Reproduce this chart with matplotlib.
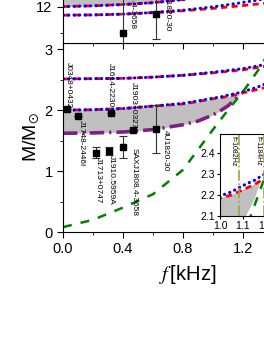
import matplotlib
matplotlib.use('Agg')
import matplotlib.pyplot as plt
from matplotlib.ticker import MultipleLocator

plt.rcParams['font.family'] = ['Liberation Sans', 'DejaVu Sans']
plt.rcParams['mathtext.fontset'] = 'stix'

# --- top panel: radius vs spin frequency (kHz) ---
f_r = [0.0, 0.2, 0.4, 0.6, 0.8, 1.0, 1.2, 1.4]
r_up = [12.0, 12.03, 12.08, 12.15, 12.27, 12.5, 12.9, 13.4]
r_lo_blue = [11.67, 11.68, 11.71, 11.77, 11.86, 11.99, 12.16, 12.35]
r_lo_red = [11.67, 11.68, 11.71, 11.77, 11.84, 11.93, 12.04, 12.16]

# --- bottom panel: mass vs spin frequency ---
f_t = [0.0, 0.4, 0.6, 0.8, 1.0, 1.2, 1.4]
m_top_blue = [2.51, 2.52, 2.54, 2.57, 2.62, 2.68, 2.77]
m_top_red = [2.51, 2.52, 2.54, 2.57, 2.61, 2.66, 2.74]

f_m = [0.0, 0.2, 0.4, 0.6, 0.8, 0.9, 1.0, 1.05, 1.1, 1.15, 1.18, 1.25, 1.3, 1.4]
m_max_blue = [2.00, 2.005, 2.025, 2.065, 2.11, 2.15, 2.195, 2.215, 2.245, 2.27, 2.29, 2.34, 2.38, 2.48]
m_max_red = [2.00, 2.005, 2.025, 2.065, 2.10, 2.14, 2.185, 2.20, 2.225, 2.25, 2.27, 2.31, 2.34, 2.40]

f_lo = [0.0, 0.2, 0.4, 0.6, 0.8, 0.9, 1.0, 1.05, 1.1, 1.15, 1.18]
m_lo = [1.62, 1.625, 1.64, 1.68, 1.76, 1.82, 1.92, 1.99, 2.07, 2.18, 2.27]
m_lo_top = [2.00, 2.005, 2.025, 2.065, 2.10, 2.14, 2.185, 2.20, 2.225, 2.25, 2.27]

f_g = [0.0, 0.2, 0.4, 0.6, 0.8, 0.9, 1.0, 1.1, 1.2, 1.3, 1.4]
m_g = [0.08, 0.2, 0.4, 0.62, 1.02, 1.35, 1.68, 2.0, 2.3, 2.65, 3.05]

# pulsars
psr_names = ['J0348+0432', 'J1748-2446I', 'J1713+0747', 'J1910.5959A',
             'J1614-2230', 'SAXJ1808.4-3658', 'J1903+0327', '4U1820-30']
psr_f = [0.027, 0.10, 0.22, 0.307, 0.32, 0.401, 0.467, 0.62]
psr_m = [2.01, 1.90, 1.30, 1.33, 1.96, 1.39, 1.67, 1.69]
psr_err = [0.0, 0.0, 0.09, 0.07, 0.0, 0.18, 0.0, 0.39]
lab_f = [0.033, 0.12, 0.233, 0.32, 0.313, 0.473, 0.467, 0.68]
lab_m = [2.79, 1.84, 1.23, 1.26, 2.77, 1.38, 2.46, 1.67]

rad_names = ['SAXJ1808.4-3658', '4U1820-30']
rad_f = [0.401, 0.62]
rad_r = [11.0, 11.73]
rad_err = [1.6, 0.96]
rad_lab_f = [0.46, 0.693]
rad_lab_r = [11.12, 11.06]

inset_lines = [1.082, 1.19]
inset_texts = ['f=1082Hz', 'f=1184Hz']

W, H = 264, 341
def box(l, t, r, b):
    return [l / W, 1 - b / H, (r - l) / W, (b - t) / H]

fig = plt.figure(figsize=(W / 100, H / 100), dpi=100)
ax = fig.add_axes(box(63, 43, 273, 232))
ax_top = fig.add_axes(box(63, 43 - 88.4, 273, 43))
axin = fig.add_axes(box(220, 134, 266, 216))

red_ls = dict(color='red', lw=2.0, ls=(0, (2.2, 1.6)))
blue_ls = dict(color='blue', lw=2.2, ls=(0, (0.1, 1.7)), dash_capstyle='round')
green_ls = dict(color='#008000', lw=1.8, ls=(0, (3.6, 3.6)))
purple_ls = dict(color='#7f1f82', lw=2.6, ls=(0, (4.0, 1.4, 0.6, 1.4)))

# top panel
ax_top.fill_between(f_r, r_up, 20, color='#c0c0c0', lw=0)
ax_top.plot(f_r, r_up, **red_ls)
ax_top.plot(f_r, r_up, **blue_ls)
ax_top.plot(f_r, r_lo_red, **red_ls)
ax_top.plot(f_r, r_lo_blue, **blue_ls)
ax_top.errorbar(rad_f, rad_r, yerr=rad_err, fmt='s', color='black', ms=5,
                ecolor='#333333', elinewidth=0.8, capsize=3, capthick=0.8)
for name, x, y in zip(rad_names, rad_lab_f, rad_lab_r):
    ax_top.text(x, y, name, rotation=270, fontsize=6, ha='center', va='bottom')
ax_top.set_xlim(0, 1.4)
ax_top.set_ylim(10.6, 14)
ax_top.yaxis.set_major_locator(MultipleLocator(2))
ax_top.yaxis.set_minor_locator(MultipleLocator(1))
ax_top.xaxis.set_major_locator(MultipleLocator(0.4))
ax_top.xaxis.set_minor_locator(MultipleLocator(0.2))
ax_top.tick_params(which='both', direction='out', labelsize=10.5)
ax_top.tick_params(which='major', length=4)
ax_top.tick_params(which='minor', length=2.5)
ax_top.tick_params(axis='x', labelbottom=False)

# bottom panel
ax.fill_between(f_lo, m_lo, m_lo_top, color='#c0c0c0', lw=0)
ax.plot(f_t, m_top_red, **red_ls)
ax.plot(f_t, m_top_blue, **blue_ls)
ax.plot(f_m, m_max_red, **red_ls)
ax.plot(f_m, m_max_blue, **blue_ls)
ax.plot(f_lo, m_lo, **purple_ls)
ax.plot(f_g, m_g, **green_ls)
ax.errorbar(psr_f, psr_m, yerr=psr_err, fmt='s', color='black', ms=5,
            ecolor='#333333', elinewidth=0.8, capsize=3, capthick=0.8, zorder=5)
for name, x, y in zip(psr_names, lab_f, lab_m):
    ax.text(x, y, name, rotation=270, fontsize=6, ha='center', va='top')
ax.set_xlim(0, 1.4)
ax.set_ylim(0, 3.1)
ax.xaxis.set_major_locator(MultipleLocator(0.4))
ax.xaxis.set_minor_locator(MultipleLocator(0.2))
ax.yaxis.set_major_locator(MultipleLocator(1))
ax.yaxis.set_minor_locator(MultipleLocator(0.5))
ax.tick_params(which='both', direction='out', labelsize=10.5)
ax.tick_params(which='major', length=4)
ax.tick_params(which='minor', length=2.5)
ax.set_ylabel(r'M/M$_{\odot}$', fontsize=14, labelpad=2)
ax.set_xlabel(r'$f\,$[kHz]', fontsize=14.5, labelpad=0)
ax.xaxis.set_label_coords((188 - 63) / 210, -0.165)

# inset
axin.fill_between(f_lo, m_lo, m_lo_top, color='#c0c0c0', lw=0)
axin.plot(f_m, m_max_red, **red_ls)
axin.plot(f_m, m_max_blue, **blue_ls)
axin.plot(f_g, m_g, **green_ls)
for x, t in zip(inset_lines, inset_texts):
    axin.axvline(x, color='#a8a040', lw=1.2, ls='-.')
    axin.text(x - 0.008, 2.48, t, rotation=270, fontsize=5, ha='right', va='top')
axin.set_xlim(1.0, 1.2)
axin.set_ylim(2.1, 2.49)
axin.xaxis.set_major_locator(MultipleLocator(0.1))
axin.yaxis.set_major_locator(MultipleLocator(0.1))
axin.tick_params(which='both', direction='out', labelsize=7.5, length=2.5, pad=1)

fig.savefig('out.png', dpi=100)
